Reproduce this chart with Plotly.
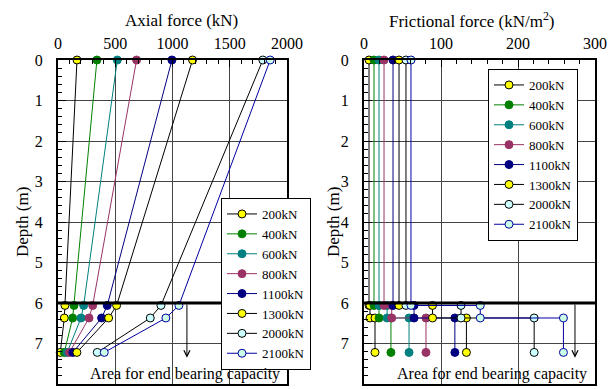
import plotly.graph_objects as go

# ---------------- data ----------------
series = ["200kN", "400kN", "600kN", "800kN", "1100kN", "1300kN", "2000kN", "2100kN"]

# Axial force (kN) at measurement depths
depth_axial = [0, 6.06, 6.37, 7.22]
axial_200 = [166, 61, 55, 20]
axial_400 = [340, 140, 128, 55]
axial_600 = [518, 224, 201, 80]
axial_800 = [686, 303, 271, 100]
axial_1100 = [995, 430, 381, 130]
axial_1300 = [1175, 512, 442, 165]
axial_2000 = [1789, 899, 806, 343]
axial_2100 = [1853, 1056, 942, 404]
axial = [axial_200, axial_400, axial_600, axial_800, axial_1100, axial_1300, axial_2000, axial_2100]

# Frictional force (kN/m2) for the three depth segments
seg_bounds = [0, 6.06, 6.37, 7.22]
fric_200 = [6.5, 7.8, 14.3]
fric_400 = [13, 19.5, 35]
fric_600 = [19.5, 30, 58.5]
fric_800 = [26, 36, 80.5]
fric_1100 = [37.7, 65, 118]
fric_1300 = [45.5, 89, 133]
fric_2000 = [54.5, 126, 221]
fric_2100 = [61, 151, 259]
fric = [fric_200, fric_400, fric_600, fric_800, fric_1100, fric_1300, fric_2000, fric_2100]

line_colors = ["#000000", "#008000", "#008080", "#993366", "#000080", "#000000", "#000000", "#0000a0"]
fill_colors = ["#ffff00", "#008000", "#008080", "#993366", "#000080", "#ffff00", "#ccffff", "#ccffe6"]
edge_colors = ["#000000", "#008000", "#008080", "#993366", "#000080", "#000000", "#000000", "#0000a0"]

FONT = "Liberation Serif, Times New Roman, serif"
W, H = 614, 389

def px_x(p):
    return p / W

def px_y(p):
    return 1 - p / H

fig = go.Figure()

for i, name in enumerate(series):
    fig.add_trace(go.Scatter(
        x=axial[i], y=depth_axial, mode="lines+markers", name=name,
        line=dict(color=line_colors[i], width=1),
        marker=dict(size=8, color=fill_colors[i], line=dict(color=edge_colors[i], width=1)),
        xaxis="x", yaxis="y", legend="legend", cliponaxis=False,
    ))

for i, name in enumerate(series):
    f = fric[i]
    xs, ys = [], []
    for k in range(3):
        xs += [f[k], f[k]]
        ys += [seg_bounds[k], seg_bounds[k + 1]]
    fig.add_trace(go.Scatter(
        x=xs, y=ys, mode="lines+markers", name=name,
        line=dict(color=line_colors[i], width=1),
        marker=dict(size=8, color=fill_colors[i], line=dict(color=edge_colors[i], width=1)),
        xaxis="x2", yaxis="y2", legend="legend2", cliponaxis=False,
    ))

grid = "#444444"
common_x = dict(side="top", ticks="inside", ticklen=7, tickcolor="black", tickwidth=1,
                showline=True, linecolor="black", linewidth=2, mirror=True, automargin=False,
                showgrid=True, gridcolor=grid, gridwidth=1, zeroline=False,
                tickfont=dict(family=FONT, size=16, color="black"), ticklabelstandoff=3)
common_y = dict(range=[8, 0], dtick=1, ticks="inside", ticklen=8, tickcolor="black", tickwidth=1,
                minor=dict(dtick=0.2, ticks="inside", ticklen=4, tickcolor="black", showgrid=False),
                showline=True, linecolor="black", linewidth=2, mirror=True, automargin=False,
                showgrid=True, gridcolor=grid, gridwidth=1, zeroline=False,
                tickfont=dict(family=FONT, size=16, color="black"), ticklabelstandoff=10)

ydom = [1 - 384 / H, 1 - 60 / H]
fig.update_layout(
    template="none",
    width=W, height=H, margin=dict(l=0, r=0, t=0, b=0, autoexpand=False),
    paper_bgcolor="white", plot_bgcolor="white",
    font=dict(family=FONT, size=13, color="black"),
    xaxis=dict(domain=[px_x(58), px_x(287)], range=[0, 2000], dtick=500,
               minor=dict(dtick=100, ticks="inside", ticklen=4, tickcolor="black", showgrid=False),
               anchor="y", **common_x),
    yaxis=dict(domain=ydom, anchor="x", **common_y),
    xaxis2=dict(domain=[px_x(364), px_x(595)], range=[0, 300], dtick=100,
                minor=dict(dtick=20, ticks="inside", ticklen=4, tickcolor="black", showgrid=False),
                anchor="y2", **common_x),
    yaxis2=dict(domain=ydom, anchor="x2", **common_y),
    legend=dict(x=px_x(221), y=px_y(198), xanchor="left", yanchor="top",
                bgcolor="white", bordercolor="black", borderwidth=1,
                font=dict(family=FONT, size=13, color="black")),
    legend2=dict(x=px_x(488), y=px_y(69), xanchor="left", yanchor="top",
                 bgcolor="white", bordercolor="black", borderwidth=1,
                 font=dict(family=FONT, size=13, color="black")),
    showlegend=True,
)

# thick line at depth 6
for xr, yr, xmax in (("x", "y", 2000), ("x2", "y2", 300)):
    fig.add_shape(type="line", xref=xr, yref=yr, x0=0, x1=xmax, y0=6, y1=6,
                  line=dict(color="black", width=3))

# arrows and text for end bearing area
fig.add_annotation(xref="x", yref="y", axref="x", ayref="y", x=1126, y=7.35, ax=1126, ay=6.0,
                   text="", showarrow=True, arrowhead=5, arrowsize=1.2, arrowwidth=1, arrowcolor="black")
fig.add_annotation(xref="x2", yref="y2", axref="x2", ayref="y2", x=274, y=7.35, ax=274, ay=6.0,
                   text="", showarrow=True, arrowhead=5, arrowsize=1.2, arrowwidth=1, arrowcolor="black")
fig.add_annotation(xref="x", yref="y", x=1108, y=7.76, text="Area for end bearing capacity",
                   xanchor="center", yanchor="middle",
                   showarrow=False, font=dict(family=FONT, size=16, color="black"))
fig.add_annotation(xref="x2", yref="y2", x=166, y=7.76, text="Area for end bearing capacity",
                   xanchor="center", yanchor="middle",
                   showarrow=False, font=dict(family=FONT, size=16, color="black"))

# axis titles
title_font = dict(family=FONT, size=17, color="black")
fig.add_annotation(xref="paper", yref="paper", x=px_x(181), y=px_y(21), text="Axial force (kN)",
                   xanchor="center", yanchor="middle", showarrow=False, font=title_font)
fig.add_annotation(xref="paper", yref="paper", x=px_x(472), y=px_y(20),
                   text="Frictional force (kN/m<sup>2</sup>)",
                   xanchor="center", yanchor="middle", showarrow=False, font=title_font)
fig.add_annotation(xref="paper", yref="paper", x=px_x(22), y=px_y(222), text="Depth (m)", textangle=-90,
                   xanchor="center", yanchor="middle", showarrow=False, font=title_font)
fig.add_annotation(xref="paper", yref="paper", x=px_x(333), y=px_y(222), text="Depth (m)", textangle=-90,
                   xanchor="center", yanchor="middle", showarrow=False, font=title_font)

fig.write_html("out.html", config={"displayModeBar": False},
               post_script="document.body.style.margin='0';document.body.style.overflow='hidden';")
